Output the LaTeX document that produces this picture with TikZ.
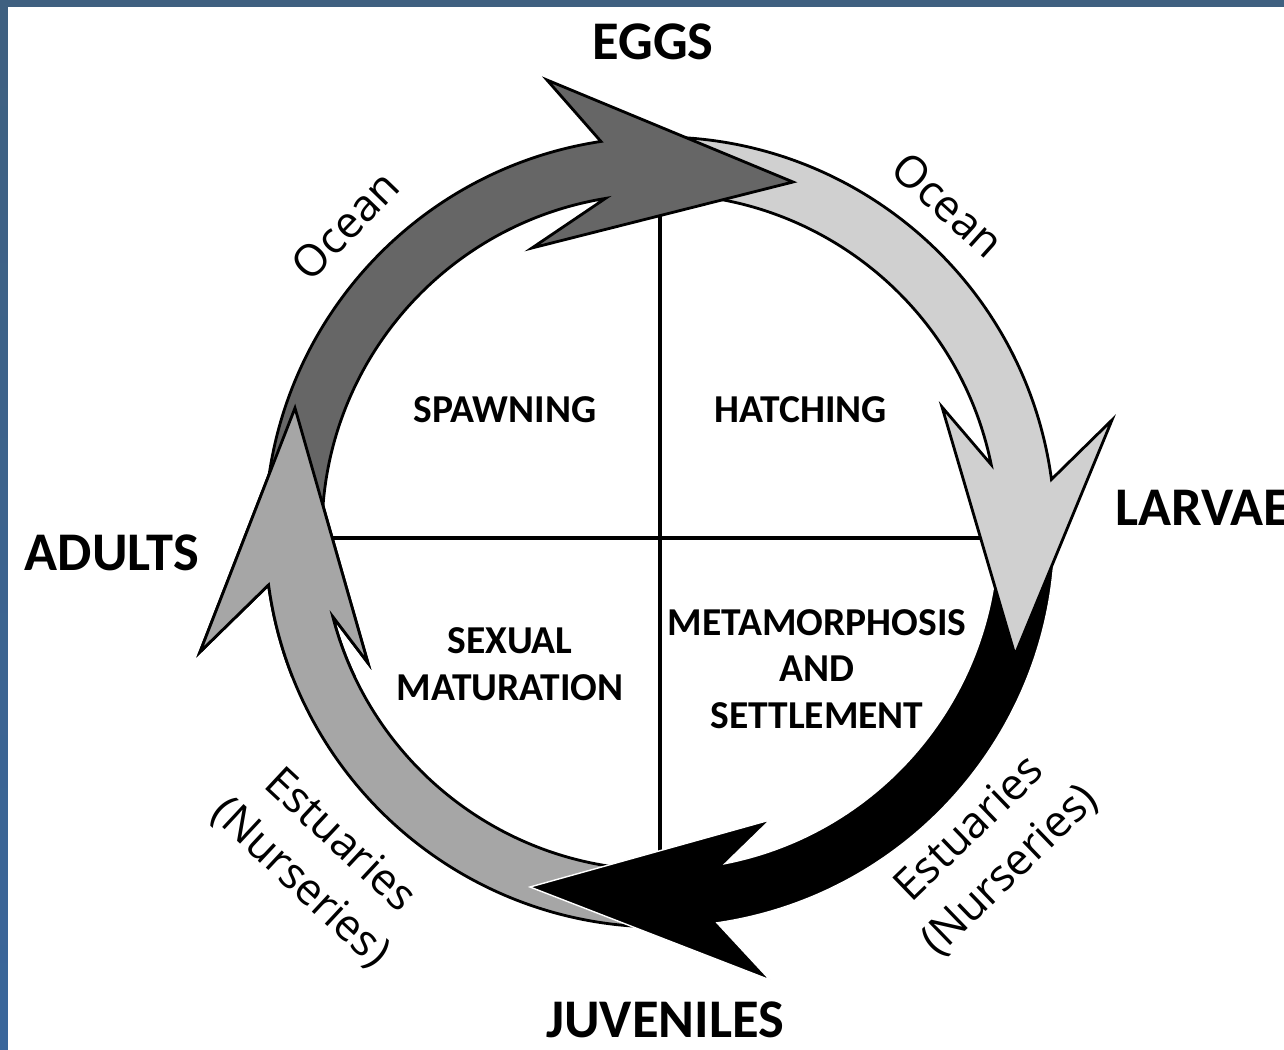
\documentclass[tikz,border=0pt]{standalone}
\usepackage{fontspec}
\setmainfont{Carlito}
\newfontfamily\habitatfont{Open Sans}
\usetikzlibrary{positioning}
\definecolor{framebar}{RGB}{63,96,128}
\definecolor{framebarlow}{RGB}{58,102,155}
\definecolor{eggsgray}{RGB}{102,102,102}
\definecolor{larvaegray}{RGB}{208,208,208}
\definecolor{adultsgray}{RGB}{166,166,166}

\begin{document}
\begin{tikzpicture}[x=0.02cm,y=0.02cm,
    stage/.style={font=\bfseries\fontsize{31}{36}\selectfont,inner sep=0pt},
    phase/.style={font=\bfseries\fontsize{22.5}{26.6}\selectfont,align=center,inner sep=0pt},
    habitat/.style={font=\habitatfont\fontsize{25}{33}\selectfont,align=center,inner sep=0pt},
    band/.style={draw=black,line width=1.6pt}]
  \def\ro{395}
  \def\ri{338}
  \useasboundingbox (-660,-518) rectangle (624,532);
  \fill[white] (-660,-518) rectangle (624,532);
  \shade[top color=framebar,bottom color=framebarlow] (-660,-518) rectangle (-652,532);
  \fill[framebar] (-660,525) rectangle (624,532);

  % the four quarters
  \coordinate (qtop) at (0,\ri);
  \coordinate (qbottom) at (0,-\ri);
  \coordinate (qleft) at (-\ri,-6);
  \coordinate (qright) at (\ri,-6);
  \draw[line width=2.2pt] (qtop) -- (qbottom);
  \draw[line width=2.2pt] (qleft) -- (qright);

  % arrows, clockwise
  \def\adultspath{(-88:\ro) arc[start angle=-88,end angle=-172.3,radius=\ro]
    -- (-460,-120) -- (-365,124) -- (-292,-131)
    -- (-165.5:\ri) arc[start angle=-165.5,end angle=-88,radius=\ri] -- cycle}
  \def\juvenilespath{(0:\ro) arc[start angle=0,end angle=-81.7,radius=\ro]
    -- (110,-448) -- (-130,-355) -- (110,-288)
    -- (-78.9:\ri) arc[start angle=-78.9,end angle=0,radius=\ri] -- cycle}
  \def\larvaepath{(92:\ro) arc[start angle=92,end angle=7.65,radius=\ro]
    -- (452,112) -- (355,-123) -- (282,125)
    -- (11.5:\ri) arc[start angle=11.5,end angle=92,radius=\ri] -- cycle}
  \def\eggspath{(180:\ro) arc[start angle=180,end angle=98.6,radius=\ro]
    -- (-113,452) -- (133,350) -- (-128,284)
    -- (99.3:\ri) arc[start angle=99.3,end angle=180,radius=\ri] -- cycle}

  \path[band,fill=adultsgray] \adultspath;
  \path[fill=black,draw=white,line width=0.8pt] \juvenilespath;
  \path[band,fill=larvaegray] \larvaepath;
  \path[band,fill=eggsgray] \eggspath;
  \begin{scope}
    \clip (-480,-145) rectangle (-280,140);
    \path[band,fill=adultsgray] \adultspath;
  \end{scope}

  % labels
  \node[stage] (eggs) at (-7,490) {EGGS};
  \node[stage,anchor=west] (larvae) at (455,24) {LARVAE};
  \node[stage] (adults) at (-548,-21) {ADULTS};
  \node[stage] (juveniles) at (5,-488) {JUVENILES};
  \node[phase] (spawning) at (-155,122) {SPAWNING};
  \node[phase] (hatching) at (141,122) {HATCHING};
  \node[phase] (maturation) at (-150,-132) {SEXUAL\\MATURATION};
  \node[phase] (metamorphosis) at (157,-137) {METAMORPHOSIS\\AND\\SETTLEMENT};
  \node[habitat,rotate=46] (oceanleft) at (-315,307) {Ocean};
  \node[habitat,rotate=-42] (oceanright) at (288,327) {Ocean};
  \node[habitat,rotate=-43] (estuaryleft) at (-340,-330) {Estuaries\\(Nurseries)};
  \node[habitat,rotate=44] (estuaryright) at (330,-318) {Estuaries\\(Nurseries)};
\end{tikzpicture}
\end{document}
